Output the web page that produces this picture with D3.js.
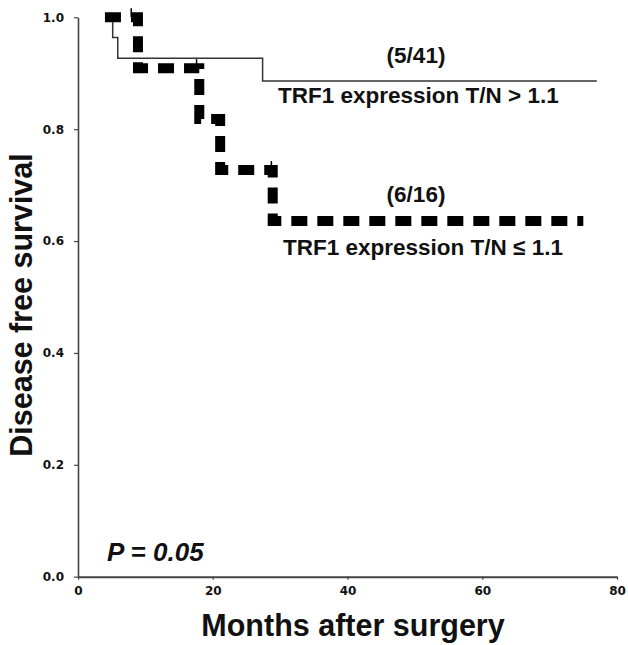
<!DOCTYPE html>
<html>
<head>
<meta charset="utf-8">
<script src="https://cdn.jsdelivr.net/npm/d3@7"></script>
<style>
  html, body { margin: 0; padding: 0; background: #fff; }
  svg { display: block; }
  text { font-family: "Liberation Sans", Arial, sans-serif; font-weight: bold; fill: #111; }
</style>
</head>
<body>
<svg id="chart" width="628" height="645"></svg>
<script>
// Kaplan-Meier step data: months after surgery vs. disease-free survival
const highMonths = [4, 5.15, 5.9, 27.4, 77];
const highSurvival = [1, 0.964, 0.927, 0.886, 0.886];

const lowMonths = [4, 8.9, 18, 21.1, 28.9, 75];
const lowSurvival = [1, 0.909, 0.818, 0.727, 0.636, 0.636];

// censored observations on the low-expression curve
const lowCensorMonths = [7.9, 17.6, 28.7];
const lowCensorSurvival = [1, 0.909, 0.727];

const xTicks = [0, 20, 40, 60, 80];
const yTicks = [0, 0.2, 0.4, 0.6, 0.8, 1.0];

const svg = d3.select("#chart");
const x = d3.scaleLinear().domain([0, 80]).range([78, 617]);
const y = d3.scaleLinear().domain([0, 1]).range([576.7, 17.3]);

// axes
const yAxis = svg.append("g")
  .attr("transform", `translate(${x(0)},0)`)
  .call(d3.axisLeft(y).tickValues(yTicks).tickFormat(d3.format(".1f"))
    .tickSize(4).tickSizeOuter(0).tickPadding(10));
const xAxis = svg.append("g")
  .attr("transform", `translate(0,${y(0)})`)
  .call(d3.axisBottom(x).tickValues(xTicks).tickFormat(d3.format("d"))
    .tickSize(3).tickSizeOuter(0).tickPadding(7));
yAxis.select(".domain").attr("stroke", "#444").attr("stroke-width", 1.6);
xAxis.select(".domain").attr("stroke", "#444").attr("stroke-width", 2);
svg.selectAll(".tick line").attr("stroke", "#444").attr("stroke-width", 1.2);
svg.selectAll(".tick text")
  .attr("font-family", "DejaVu Sans, sans-serif")
  .attr("font-weight", "bold")
  .attr("font-size", 12)
  .style("font-family", "'DejaVu Sans', sans-serif")
  .style("font-size", "12px")
  .attr("fill", "#1a1a1a");

const line = d3.line().curve(d3.curveStepAfter)
  .x(d => x(d[0])).y(d => y(d[1]));

// TRF1 T/N > 1.1 : thin solid step curve
svg.append("path")
  .datum(d3.zip(highMonths, highSurvival))
  .attr("d", line)
  .attr("fill", "none")
  .attr("stroke", "#333")
  .attr("stroke-width", 1.5);

// TRF1 T/N <= 1.1 : heavy dashed step curve
svg.append("path")
  .datum(d3.zip(lowMonths, lowSurvival))
  .attr("d", line)
  .attr("fill", "none")
  .attr("stroke", "#000")
  .attr("stroke-width", 10)
  .attr("stroke-linecap", "butt")
  .attr("stroke-linejoin", "miter")
  .attr("stroke-dasharray", "16,10");

svg.selectAll(".censor")
  .data(d3.zip(lowCensorMonths, lowCensorSurvival))
  .join("line")
  .attr("class", "censor")
  .attr("x1", d => x(d[0])).attr("x2", d => x(d[0]))
  .attr("y1", d => y(d[1]) - 9).attr("y2", d => y(d[1]))
  .attr("stroke", "#000").attr("stroke-width", 1.5);

// curve annotations
svg.append("text").attr("x", 416).attr("y", 63).attr("text-anchor", "middle")
  .attr("font-size", 22.5).text("(5/41)");
svg.append("text").attr("x", 278).attr("y", 103)
  .attr("font-size", 22.5).text("TRF1 expression T/N > 1.1");
svg.append("text").attr("x", 416).attr("y", 202).attr("text-anchor", "middle")
  .attr("font-size", 22.5).text("(6/16)");
svg.append("text").attr("x", 283).attr("y", 255)
  .attr("font-size", 22.5).text("TRF1 expression T/N \u2264 1.1");

svg.append("text").attr("x", 107).attr("y", 561)
  .attr("font-size", 26).attr("font-style", "italic").text("P = 0.05");

// axis titles
svg.append("text").attr("x", 353).attr("y", 636).attr("text-anchor", "middle")
  .attr("font-size", 30.5).text("Months after surgery");
svg.append("text")
  .attr("transform", "translate(32,305) rotate(-90)")
  .attr("text-anchor", "middle")
  .attr("font-size", 30.5).text("Disease free survival");
</script>
</body>
</html>
